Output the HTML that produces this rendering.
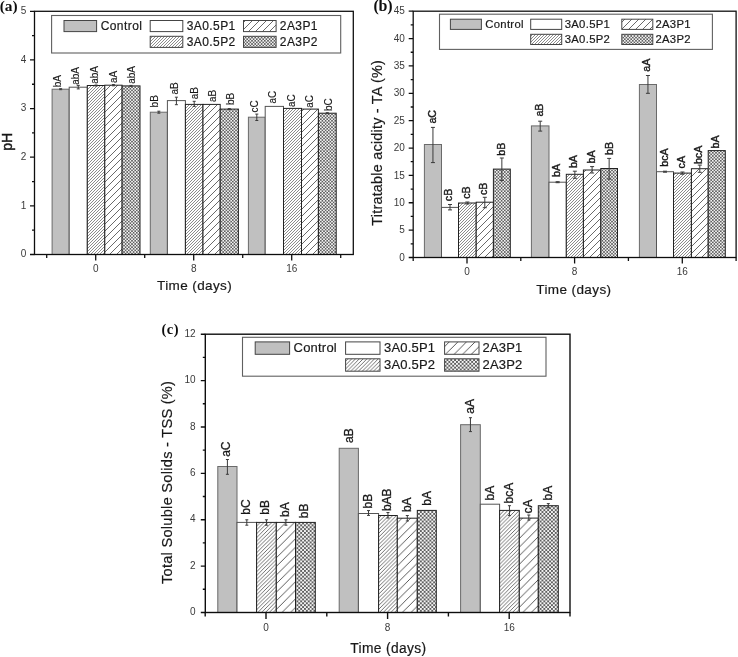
<!DOCTYPE html>
<html><head><meta charset="utf-8"><style>
html,body{margin:0;padding:0;background:#fff;}
svg{display:block;}
text{font-family:"Liberation Sans", sans-serif;}
.lab{stroke:#1a1a1a;stroke-width:0.3px;}
.tt{stroke:#1a1a1a;stroke-width:0.2px;}
.leg{stroke:#1a1a1a;stroke-width:0.2px;}
.tk{stroke:none;}
</style></head><body>
<svg width="738" height="657" viewBox="0 0 738 657">
<defs>
<pattern id="ad" patternUnits="userSpaceOnUse" width="3.0" height="3.0">
  <rect width="3.0" height="3.0" fill="#fff"/>
  <path d="M-1,4.0 L4.0,-1 M-4.0,4.0 L1.0,-1 M2.0,4.0 L7.0,-1" stroke="#5a5a5a" stroke-width="0.7"/>
</pattern>
<pattern id="as" patternUnits="userSpaceOnUse" width="7.0" height="7.0">
  <rect width="7.0" height="7.0" fill="#fff"/>
  <path d="M-1,8.0 L8.0,-1 M-8.0,8.0 L1.0,-1 M6.0,8.0 L15.0,-1" stroke="#505050" stroke-width="0.85"/>
</pattern>
<pattern id="ac" patternUnits="userSpaceOnUse" width="3.2" height="3.2">
  <rect width="3.2" height="3.2" fill="#f4f4f4"/>
  <rect width="1.6" height="1.6" fill="#606060"/>
  <rect x="1.6" y="1.6" width="1.6" height="1.6" fill="#606060"/>
</pattern>
<pattern id="bd" patternUnits="userSpaceOnUse" width="3.0" height="3.0">
  <rect width="3.0" height="3.0" fill="#fff"/>
  <path d="M-1,4.0 L4.0,-1 M-4.0,4.0 L1.0,-1 M2.0,4.0 L7.0,-1" stroke="#5a5a5a" stroke-width="0.7"/>
</pattern>
<pattern id="bs" patternUnits="userSpaceOnUse" width="7.0" height="7.0">
  <rect width="7.0" height="7.0" fill="#fff"/>
  <path d="M-1,8.0 L8.0,-1 M-8.0,8.0 L1.0,-1 M6.0,8.0 L15.0,-1" stroke="#505050" stroke-width="0.85"/>
</pattern>
<pattern id="bc" patternUnits="userSpaceOnUse" width="3.2" height="3.2">
  <rect width="3.2" height="3.2" fill="#f4f4f4"/>
  <rect width="1.6" height="1.6" fill="#606060"/>
  <rect x="1.6" y="1.6" width="1.6" height="1.6" fill="#606060"/>
</pattern>
<pattern id="cd" patternUnits="userSpaceOnUse" width="3.8" height="3.8">
  <rect width="3.8" height="3.8" fill="#fff"/>
  <path d="M-1,4.8 L4.8,-1 M-4.8,4.8 L1.0,-1 M2.8,4.8 L8.6,-1" stroke="#4a4a4a" stroke-width="0.8"/>
</pattern>
<pattern id="cs" patternUnits="userSpaceOnUse" width="8.6" height="8.6">
  <rect width="8.6" height="8.6" fill="#fff"/>
  <path d="M-1,9.6 L9.6,-1 M-9.6,9.6 L1.0,-1 M7.6,9.6 L18.2,-1" stroke="#3a3a3a" stroke-width="0.85"/>
</pattern>
<pattern id="cc" patternUnits="userSpaceOnUse" width="3.8" height="3.8">
  <rect width="3.8" height="3.8" fill="#f4f4f4"/>
  <rect width="1.9" height="1.9" fill="#606060"/>
  <rect x="1.9" y="1.9" width="1.9" height="1.9" fill="#606060"/>
</pattern><filter id="bl" x="0" y="0" width="100%" height="100%"><feGaussianBlur stdDeviation="0.35"/></filter></defs>
<rect width="738" height="657" fill="#fff"/>
<g filter="url(#bl)">
<rect width="738" height="657" fill="#fff"/>
<g>
<rect x="52.10" y="89.20" width="17.10" height="165.30" fill="#c0c0c0" stroke="#6a6a6a" stroke-width="1.0"/>
<rect x="69.20" y="87.20" width="18.10" height="167.30" fill="#ffffff" stroke="#555" stroke-width="1.0"/>
<rect x="87.30" y="85.50" width="17.50" height="169.00" fill="url(#ad)" stroke="#222" stroke-width="1.0"/>
<rect x="104.80" y="85.20" width="17.30" height="169.30" fill="url(#as)" stroke="#222" stroke-width="1.0"/>
<rect x="122.10" y="85.90" width="17.90" height="168.60" fill="url(#ac)" stroke="#222" stroke-width="1.0"/>
<path d="M60.65,88.70 V89.70 M59.15,88.70 H62.15 M59.15,89.70 H62.15" stroke="#3a3a3a" stroke-width="1" fill="none"/>
<text x="0" y="0" transform="translate(61.15 87.30) rotate(-90) scale(1 1)" class="lab" style="stroke-width:0.12px" font-size="10" fill="#1a1a1a">bA</text>
<path d="M78.25,85.40 V88.90 M76.75,85.40 H79.75 M76.75,88.90 H79.75" stroke="#3a3a3a" stroke-width="1" fill="none"/>
<text x="0" y="0" transform="translate(79.15 84.80) rotate(-90) scale(1 1)" class="lab" style="stroke-width:0.12px" font-size="10" fill="#1a1a1a">abA</text>
<path d="M96.05,85.00 V86.00 M94.55,85.00 H97.55 M94.55,86.00 H97.55" stroke="#3a3a3a" stroke-width="1" fill="none"/>
<text x="0" y="0" transform="translate(97.65 83.80) rotate(-90) scale(1 1)" class="lab" style="stroke-width:0.12px" font-size="10" fill="#1a1a1a">abA</text>
<path d="M113.45,84.60 V85.80 M111.95,84.60 H114.95 M111.95,85.80 H114.95" stroke="#3a3a3a" stroke-width="1" fill="none"/>
<text x="0" y="0" transform="translate(117.15 83.10) rotate(-90) scale(1 1)" class="lab" style="stroke-width:0.12px" font-size="10" fill="#1a1a1a">aA</text>
<path d="M131.05,85.40 V86.40 M129.55,85.40 H132.55 M129.55,86.40 H132.55" stroke="#3a3a3a" stroke-width="1" fill="none"/>
<text x="0" y="0" transform="translate(135.05 83.80) rotate(-90) scale(1 1)" class="lab" style="stroke-width:0.12px" font-size="10" fill="#1a1a1a">abA</text>
<rect x="150.30" y="112.20" width="17.10" height="142.30" fill="#c0c0c0" stroke="#6a6a6a" stroke-width="1.0"/>
<rect x="167.40" y="100.60" width="18.00" height="153.90" fill="#ffffff" stroke="#555" stroke-width="1.0"/>
<rect x="185.40" y="104.40" width="17.60" height="150.10" fill="url(#ad)" stroke="#222" stroke-width="1.0"/>
<rect x="203.00" y="104.40" width="17.20" height="150.10" fill="url(#as)" stroke="#222" stroke-width="1.0"/>
<rect x="220.20" y="109.10" width="18.20" height="145.40" fill="url(#ac)" stroke="#222" stroke-width="1.0"/>
<path d="M158.85,111.20 V113.20 M157.35,111.20 H160.35 M157.35,113.20 H160.35" stroke="#3a3a3a" stroke-width="1" fill="none"/>
<text x="0" y="0" transform="translate(157.65 107.40) rotate(-90) scale(1 1)" class="lab" style="stroke-width:0.12px" font-size="10" fill="#1a1a1a">bB</text>
<path d="M176.40,97.20 V104.70 M174.90,97.20 H177.90 M174.90,104.70 H177.90" stroke="#3a3a3a" stroke-width="1" fill="none"/>
<text x="0" y="0" transform="translate(178.15 94.60) rotate(-90) scale(1 1)" class="lab" style="stroke-width:0.12px" font-size="10" fill="#1a1a1a">aB</text>
<path d="M194.20,101.30 V106.40 M192.70,101.30 H195.70 M192.70,106.40 H195.70" stroke="#3a3a3a" stroke-width="1" fill="none"/>
<text x="0" y="0" transform="translate(197.65 99.30) rotate(-90) scale(1 1)" class="lab" style="stroke-width:0.12px" font-size="10" fill="#1a1a1a">aB</text>
<text x="0" y="0" transform="translate(215.75 102.00) rotate(-90) scale(1 1)" class="lab" style="stroke-width:0.12px" font-size="10" fill="#1a1a1a">aB</text>
<path d="M229.30,108.60 V109.60 M227.80,108.60 H230.80 M227.80,109.60 H230.80" stroke="#3a3a3a" stroke-width="1" fill="none"/>
<text x="0" y="0" transform="translate(233.95 105.10) rotate(-90) scale(1 1)" class="lab" style="stroke-width:0.12px" font-size="10" fill="#1a1a1a">bB</text>
<rect x="248.40" y="117.20" width="16.80" height="137.30" fill="#c0c0c0" stroke="#6a6a6a" stroke-width="1.0"/>
<rect x="265.20" y="106.40" width="18.30" height="148.10" fill="#ffffff" stroke="#555" stroke-width="1.0"/>
<rect x="283.50" y="108.40" width="18.00" height="146.10" fill="url(#ad)" stroke="#222" stroke-width="1.0"/>
<rect x="301.50" y="109.10" width="16.90" height="145.40" fill="url(#as)" stroke="#222" stroke-width="1.0"/>
<rect x="318.40" y="113.20" width="17.80" height="141.30" fill="url(#ac)" stroke="#222" stroke-width="1.0"/>
<path d="M256.80,114.10 V120.50 M255.30,114.10 H258.30 M255.30,120.50 H258.30" stroke="#3a3a3a" stroke-width="1" fill="none"/>
<text x="0" y="0" transform="translate(258.25 112.40) rotate(-90) scale(1 1)" class="lab" style="stroke-width:0.12px" font-size="10" fill="#1a1a1a">cC</text>
<text x="0" y="0" transform="translate(275.85 103.60) rotate(-90) scale(1 1)" class="lab" style="stroke-width:0.12px" font-size="10" fill="#1a1a1a">aC</text>
<text x="0" y="0" transform="translate(294.85 107.00) rotate(-90) scale(1 1)" class="lab" style="stroke-width:0.12px" font-size="10" fill="#1a1a1a">aC</text>
<text x="0" y="0" transform="translate(312.85 107.70) rotate(-90) scale(1 1)" class="lab" style="stroke-width:0.12px" font-size="10" fill="#1a1a1a">aC</text>
<path d="M327.30,112.70 V113.70 M325.80,112.70 H328.80 M325.80,113.70 H328.80" stroke="#3a3a3a" stroke-width="1" fill="none"/>
<text x="0" y="0" transform="translate(332.05 111.10) rotate(-90) scale(1 1)" class="lab" style="stroke-width:0.12px" font-size="10" fill="#1a1a1a">bC</text>
<rect x="34.5" y="11.3" width="318.80" height="243.20" fill="none" stroke="#111" stroke-width="1.3"/>
<text x="26.3" y="257.20" text-anchor="end" class="tk" font-size="10" fill="#3a3a3a">0</text>
<text x="26.3" y="208.56" text-anchor="end" class="tk" font-size="10" fill="#3a3a3a">1</text>
<text x="26.3" y="159.92" text-anchor="end" class="tk" font-size="10" fill="#3a3a3a">2</text>
<text x="26.3" y="111.28" text-anchor="end" class="tk" font-size="10" fill="#3a3a3a">3</text>
<text x="26.3" y="62.64" text-anchor="end" class="tk" font-size="10" fill="#3a3a3a">4</text>
<text x="26.3" y="14.00" text-anchor="end" class="tk" font-size="10" fill="#3a3a3a">5</text>
<text x="95.70" y="271.6" text-anchor="middle" class="tk" font-size="10" fill="#3a3a3a">0</text>
<text x="193.70" y="271.6" text-anchor="middle" class="tk" font-size="10" fill="#3a3a3a">8</text>
<text x="291.70" y="271.6" text-anchor="middle" class="tk" font-size="10" fill="#3a3a3a">16</text>
<path d="M30.00,254.50 H34.5 M32.00,230.18 H34.5 M30.00,205.86 H34.5 M32.00,181.54 H34.5 M30.00,157.22 H34.5 M32.00,132.90 H34.5 M30.00,108.58 H34.5 M32.00,84.26 H34.5 M30.00,59.94 H34.5 M32.00,35.62 H34.5 M30.00,11.30 H34.5 M95.70,254.5 V260.50 M193.70,254.5 V260.50 M291.70,254.5 V260.50 M46.70,254.5 V258.00 M144.70,254.5 V258.00 M242.70,254.5 V258.00 M340.70,254.5 V258.00" stroke="#111" stroke-width="1.3" fill="none"/>
<text x="194.6" y="290.4" text-anchor="middle" class="tt" font-size="13.5" letter-spacing="0.4" fill="#1a1a1a">Time (days)</text>
<text x="12.0" y="141.8" text-anchor="middle" transform="rotate(-90 12.0 141.8)" class="tt" style="stroke-width:0.45px" font-size="14" letter-spacing="0" fill="#1a1a1a">pH</text>
<text x="-0.3" y="10.7" style='font-family:"Liberation Serif", serif;font-weight:bold' font-size="15.4" letter-spacing="0" fill="#111">(a)</text>
<rect x="51.6" y="15.5" width="289.10" height="37.50" fill="#fff" stroke="#606060" stroke-width="1.1"/>
<rect x="64" y="20.5" width="32.6" height="11.1" fill="#c0c0c0" stroke="#444" stroke-width="1"/>
<text x="100.7" y="30.0" class="leg" font-size="12.0" letter-spacing="0.42" fill="#1a1a1a">Control</text>
<rect x="150.2" y="20.5" width="32.6" height="11.1" fill="#ffffff" stroke="#444" stroke-width="1"/>
<text x="186.7" y="30.0" class="leg" font-size="12.0" letter-spacing="0.42" fill="#1a1a1a">3A0.5P1</text>
<rect x="243.5" y="20.5" width="32.6" height="11.1" fill="url(#as)" stroke="#444" stroke-width="1"/>
<text x="279.8" y="30.0" class="leg" font-size="12.0" letter-spacing="0.42" fill="#1a1a1a">2A3P1</text>
<rect x="150.2" y="36.3" width="32.6" height="11.1" fill="url(#ad)" stroke="#444" stroke-width="1"/>
<text x="186.7" y="45.8" class="leg" font-size="12.0" letter-spacing="0.42" fill="#1a1a1a">3A0.5P2</text>
<rect x="243.5" y="36.3" width="32.6" height="11.1" fill="url(#ac)" stroke="#444" stroke-width="1"/>
<text x="279.8" y="45.8" class="leg" font-size="12.0" letter-spacing="0.42" fill="#1a1a1a">2A3P2</text>
</g>
<g>
<rect x="424.40" y="144.50" width="17.10" height="113.00" fill="#c0c0c0" stroke="#6a6a6a" stroke-width="1.0"/>
<rect x="441.50" y="207.40" width="17.00" height="50.10" fill="#ffffff" stroke="#555" stroke-width="1.0"/>
<rect x="458.50" y="203.00" width="17.70" height="54.50" fill="url(#bd)" stroke="#222" stroke-width="1.0"/>
<rect x="476.20" y="202.20" width="17.20" height="55.30" fill="url(#bs)" stroke="#222" stroke-width="1.0"/>
<rect x="493.40" y="169.10" width="16.90" height="88.40" fill="url(#bc)" stroke="#222" stroke-width="1.0"/>
<path d="M432.95,127.40 V162.60 M430.95,127.40 H434.95 M430.95,162.60 H434.95" stroke="#3a3a3a" stroke-width="1" fill="none"/>
<text x="0" y="0" transform="translate(436.05 123.60) rotate(-90) scale(1.06 1)" class="lab" style="stroke-width:0.4px" font-size="10.1" fill="#1a1a1a">aC</text>
<path d="M450.00,204.50 V209.90 M448.00,204.50 H452.00 M448.00,209.90 H452.00" stroke="#3a3a3a" stroke-width="1" fill="none"/>
<text x="0" y="0" transform="translate(452.45 201.20) rotate(-90) scale(1.06 1)" class="lab" style="stroke-width:0.4px" font-size="10.1" fill="#1a1a1a">cB</text>
<path d="M467.35,202.00 V204.00 M465.35,202.00 H469.35 M465.35,204.00 H469.35" stroke="#3a3a3a" stroke-width="1" fill="none"/>
<text x="0" y="0" transform="translate(469.75 198.80) rotate(-90) scale(1.06 1)" class="lab" style="stroke-width:0.4px" font-size="10.1" fill="#1a1a1a">cB</text>
<path d="M484.80,197.30 V207.70 M482.80,197.30 H486.80 M482.80,207.70 H486.80" stroke="#3a3a3a" stroke-width="1" fill="none"/>
<text x="0" y="0" transform="translate(486.85 195.00) rotate(-90) scale(1.06 1)" class="lab" style="stroke-width:0.4px" font-size="10.1" fill="#1a1a1a">cB</text>
<path d="M501.85,158.00 V180.60 M499.85,158.00 H503.85 M499.85,180.60 H503.85" stroke="#3a3a3a" stroke-width="1" fill="none"/>
<text x="0" y="0" transform="translate(505.15 155.70) rotate(-90) scale(1.06 1)" class="lab" style="stroke-width:0.4px" font-size="10.1" fill="#1a1a1a">bB</text>
<rect x="531.40" y="125.90" width="17.60" height="131.60" fill="#c0c0c0" stroke="#6a6a6a" stroke-width="1.0"/>
<rect x="549.00" y="182.20" width="17.30" height="75.30" fill="#ffffff" stroke="#555" stroke-width="1.0"/>
<rect x="566.30" y="174.30" width="17.10" height="83.20" fill="url(#bd)" stroke="#222" stroke-width="1.0"/>
<rect x="583.40" y="170.00" width="17.40" height="87.50" fill="url(#bs)" stroke="#222" stroke-width="1.0"/>
<rect x="600.80" y="168.50" width="16.70" height="89.00" fill="url(#bc)" stroke="#222" stroke-width="1.0"/>
<path d="M540.20,121.20 V131.10 M538.20,121.20 H542.20 M538.20,131.10 H542.20" stroke="#3a3a3a" stroke-width="1" fill="none"/>
<text x="0" y="0" transform="translate(542.55 116.60) rotate(-90) scale(1.06 1)" class="lab" style="stroke-width:0.4px" font-size="10.1" fill="#1a1a1a">aB</text>
<path d="M557.65,181.70 V182.70 M555.65,181.70 H559.65 M555.65,182.70 H559.65" stroke="#3a3a3a" stroke-width="1" fill="none"/>
<text x="0" y="0" transform="translate(560.35 176.90) rotate(-90) scale(1.06 1)" class="lab" style="stroke-width:0.4px" font-size="10.1" fill="#1a1a1a">bA</text>
<path d="M574.85,171.20 V178.30 M572.85,171.20 H576.85 M572.85,178.30 H576.85" stroke="#3a3a3a" stroke-width="1" fill="none"/>
<text x="0" y="0" transform="translate(577.45 168.10) rotate(-90) scale(1.06 1)" class="lab" style="stroke-width:0.4px" font-size="10.1" fill="#1a1a1a">bA</text>
<path d="M592.10,166.60 V173.00 M590.10,166.60 H594.10 M590.10,173.00 H594.10" stroke="#3a3a3a" stroke-width="1" fill="none"/>
<text x="0" y="0" transform="translate(595.15 163.50) rotate(-90) scale(1.06 1)" class="lab" style="stroke-width:0.4px" font-size="10.1" fill="#1a1a1a">bA</text>
<path d="M609.15,158.40 V179.10 M607.15,158.40 H611.15 M607.15,179.10 H611.15" stroke="#3a3a3a" stroke-width="1" fill="none"/>
<text x="0" y="0" transform="translate(612.85 154.90) rotate(-90) scale(1.06 1)" class="lab" style="stroke-width:0.4px" font-size="10.1" fill="#1a1a1a">bB</text>
<rect x="639.40" y="84.50" width="17.10" height="173.00" fill="#c0c0c0" stroke="#6a6a6a" stroke-width="1.0"/>
<rect x="656.50" y="171.70" width="17.00" height="85.80" fill="#ffffff" stroke="#555" stroke-width="1.0"/>
<rect x="673.50" y="173.10" width="17.90" height="84.40" fill="url(#bd)" stroke="#222" stroke-width="1.0"/>
<rect x="691.40" y="168.70" width="16.80" height="88.80" fill="url(#bs)" stroke="#222" stroke-width="1.0"/>
<rect x="708.20" y="150.60" width="17.10" height="106.90" fill="url(#bc)" stroke="#222" stroke-width="1.0"/>
<path d="M647.95,75.50 V93.30 M645.95,75.50 H649.95 M645.95,93.30 H649.95" stroke="#3a3a3a" stroke-width="1" fill="none"/>
<text x="0" y="0" transform="translate(649.75 71.80) rotate(-90) scale(1.06 1)" class="lab" style="stroke-width:0.4px" font-size="10.1" fill="#1a1a1a">aA</text>
<path d="M665.00,171.20 V172.20 M663.00,171.20 H667.00 M663.00,172.20 H667.00" stroke="#3a3a3a" stroke-width="1" fill="none"/>
<text x="0" y="0" transform="translate(667.55 166.80) rotate(-90) scale(1.06 1)" class="lab" style="stroke-width:0.4px" font-size="10.1" fill="#1a1a1a">bcA</text>
<path d="M682.45,172.00 V174.20 M680.45,172.00 H684.45 M680.45,174.20 H684.45" stroke="#3a3a3a" stroke-width="1" fill="none"/>
<text x="0" y="0" transform="translate(684.85 168.40) rotate(-90) scale(1.06 1)" class="lab" style="stroke-width:0.4px" font-size="10.1" fill="#1a1a1a">cA</text>
<path d="M699.80,165.10 V172.30 M697.80,165.10 H701.80 M697.80,172.30 H701.80" stroke="#3a3a3a" stroke-width="1" fill="none"/>
<text x="0" y="0" transform="translate(702.25 164.10) rotate(-90) scale(1.06 1)" class="lab" style="stroke-width:0.4px" font-size="10.1" fill="#1a1a1a">bcA</text>
<text x="0" y="0" transform="translate(719.05 148.40) rotate(-90) scale(1.06 1)" class="lab" style="stroke-width:0.4px" font-size="10.1" fill="#1a1a1a">bA</text>
<rect x="413.2" y="11.2" width="322.90" height="246.30" fill="none" stroke="#111" stroke-width="1.3"/>
<text x="404.8" y="260.60" text-anchor="end" class="tk" font-size="10" fill="#3a3a3a">0</text>
<text x="404.8" y="233.23" text-anchor="end" class="tk" font-size="10" fill="#3a3a3a">5</text>
<text x="404.8" y="205.87" text-anchor="end" class="tk" font-size="10" fill="#3a3a3a">10</text>
<text x="404.8" y="178.50" text-anchor="end" class="tk" font-size="10" fill="#3a3a3a">15</text>
<text x="404.8" y="151.13" text-anchor="end" class="tk" font-size="10" fill="#3a3a3a">20</text>
<text x="404.8" y="123.77" text-anchor="end" class="tk" font-size="10" fill="#3a3a3a">25</text>
<text x="404.8" y="96.40" text-anchor="end" class="tk" font-size="10" fill="#3a3a3a">30</text>
<text x="404.8" y="69.03" text-anchor="end" class="tk" font-size="10" fill="#3a3a3a">35</text>
<text x="404.8" y="41.67" text-anchor="end" class="tk" font-size="10" fill="#3a3a3a">40</text>
<text x="404.8" y="14.30" text-anchor="end" class="tk" font-size="10" fill="#3a3a3a">45</text>
<text x="467.00" y="274.5" text-anchor="middle" class="tk" font-size="10" fill="#3a3a3a">0</text>
<text x="574.60" y="274.5" text-anchor="middle" class="tk" font-size="10" fill="#3a3a3a">8</text>
<text x="682.30" y="274.5" text-anchor="middle" class="tk" font-size="10" fill="#3a3a3a">16</text>
<path d="M408.70,257.50 H413.2 M410.70,243.82 H413.2 M408.70,230.13 H413.2 M410.70,216.45 H413.2 M408.70,202.77 H413.2 M410.70,189.08 H413.2 M408.70,175.40 H413.2 M410.70,161.72 H413.2 M408.70,148.03 H413.2 M410.70,134.35 H413.2 M408.70,120.67 H413.2 M410.70,106.98 H413.2 M408.70,93.30 H413.2 M410.70,79.62 H413.2 M408.70,65.93 H413.2 M410.70,52.25 H413.2 M408.70,38.57 H413.2 M410.70,24.88 H413.2 M408.70,11.20 H413.2 M467.00,257.5 V263.50 M574.60,257.5 V263.50 M682.30,257.5 V263.50 M413.20,257.5 V261.00 M520.80,257.5 V261.00 M628.40,257.5 V261.00 M736.10,257.5 V261.00" stroke="#111" stroke-width="1.3" fill="none"/>
<text x="573.9" y="293.5" text-anchor="middle" class="tt" font-size="13.5" letter-spacing="0.4" fill="#1a1a1a">Time (days)</text>
<text x="382.5" y="142.8" text-anchor="middle" transform="rotate(-90 382.5 142.8)" class="tt" style="stroke-width:0.2px" font-size="14.4" letter-spacing="0.23" fill="#1a1a1a">Titratable acidity - TA (%)</text>
<text x="373.5" y="11.4" style='font-family:"Liberation Serif", serif;font-weight:bold' font-size="16" letter-spacing="-0.3" fill="#111">(b)</text>
<rect x="439.5" y="14.2" width="272.90" height="35.20" fill="#fff" stroke="#606060" stroke-width="1.1"/>
<rect x="450.4" y="19.2" width="31" height="10.2" fill="#c0c0c0" stroke="#444" stroke-width="1"/>
<text x="485.3" y="28.0" class="leg" font-size="11.3" letter-spacing="0.3" fill="#1a1a1a">Control</text>
<rect x="530.7" y="19.2" width="31" height="10.2" fill="#ffffff" stroke="#444" stroke-width="1"/>
<text x="564.7" y="28.0" class="leg" font-size="11.3" letter-spacing="0.3" fill="#1a1a1a">3A0.5P1</text>
<rect x="621.8" y="19.2" width="31" height="10.2" fill="url(#bs)" stroke="#444" stroke-width="1"/>
<text x="655.4" y="28.0" class="leg" font-size="11.3" letter-spacing="0.3" fill="#1a1a1a">2A3P1</text>
<rect x="530.7" y="34.3" width="31" height="10.2" fill="url(#bd)" stroke="#444" stroke-width="1"/>
<text x="564.7" y="42.7" class="leg" font-size="11.3" letter-spacing="0.3" fill="#1a1a1a">3A0.5P2</text>
<rect x="621.8" y="34.3" width="31" height="10.2" fill="url(#bc)" stroke="#444" stroke-width="1"/>
<text x="655.4" y="42.7" class="leg" font-size="11.3" letter-spacing="0.3" fill="#1a1a1a">2A3P2</text>
</g>
<g>
<rect x="217.80" y="466.50" width="19.20" height="146.00" fill="#c0c0c0" stroke="#6a6a6a" stroke-width="1.0"/>
<rect x="237.00" y="522.40" width="19.60" height="90.10" fill="#ffffff" stroke="#555" stroke-width="1.0"/>
<rect x="256.60" y="522.40" width="19.70" height="90.10" fill="url(#cd)" stroke="#222" stroke-width="1.0"/>
<rect x="276.30" y="522.40" width="19.20" height="90.10" fill="url(#cs)" stroke="#222" stroke-width="1.0"/>
<rect x="295.50" y="522.40" width="19.80" height="90.10" fill="url(#cc)" stroke="#222" stroke-width="1.0"/>
<path d="M227.40,459.50 V474.30 M225.90,459.50 H228.90 M225.90,474.30 H228.90" stroke="#3a3a3a" stroke-width="1" fill="none"/>
<text x="0" y="0" transform="translate(230.05 456.80) rotate(-90) scale(1 1)" class="lab" style="stroke-width:0.3px" font-size="12.0" fill="#1a1a1a">aC</text>
<path d="M246.80,519.80 V525.20 M245.30,519.80 H248.30 M245.30,525.20 H248.30" stroke="#3a3a3a" stroke-width="1" fill="none"/>
<text x="0" y="0" transform="translate(249.65 514.70) rotate(-90) scale(1 1)" class="lab" style="stroke-width:0.3px" font-size="12.0" fill="#1a1a1a">bC</text>
<path d="M266.45,519.80 V525.20 M264.95,519.80 H267.95 M264.95,525.20 H267.95" stroke="#3a3a3a" stroke-width="1" fill="none"/>
<text x="0" y="0" transform="translate(269.25 514.70) rotate(-90) scale(1 1)" class="lab" style="stroke-width:0.3px" font-size="12.0" fill="#1a1a1a">bB</text>
<path d="M285.90,519.80 V525.20 M284.40,519.80 H287.40 M284.40,525.20 H287.40" stroke="#3a3a3a" stroke-width="1" fill="none"/>
<text x="0" y="0" transform="translate(288.75 517.00) rotate(-90) scale(1 1)" class="lab" style="stroke-width:0.3px" font-size="12.0" fill="#1a1a1a">bA</text>
<text x="0" y="0" transform="translate(308.35 518.20) rotate(-90) scale(1 1)" class="lab" style="stroke-width:0.3px" font-size="12.0" fill="#1a1a1a">bB</text>
<rect x="339.20" y="448.30" width="19.20" height="164.20" fill="#c0c0c0" stroke="#6a6a6a" stroke-width="1.0"/>
<rect x="358.40" y="513.50" width="20.20" height="99.00" fill="#ffffff" stroke="#555" stroke-width="1.0"/>
<rect x="378.60" y="515.50" width="18.70" height="97.00" fill="url(#cd)" stroke="#222" stroke-width="1.0"/>
<rect x="397.30" y="518.20" width="20.00" height="94.30" fill="url(#cs)" stroke="#222" stroke-width="1.0"/>
<rect x="417.30" y="510.40" width="19.00" height="102.10" fill="url(#cc)" stroke="#222" stroke-width="1.0"/>
<text x="0" y="0" transform="translate(352.55 443.00) rotate(-90) scale(1 1)" class="lab" style="stroke-width:0.3px" font-size="12.0" fill="#1a1a1a">aB</text>
<path d="M368.50,510.60 V515.40 M367.00,510.60 H370.00 M367.00,515.40 H370.00" stroke="#3a3a3a" stroke-width="1" fill="none"/>
<text x="0" y="0" transform="translate(372.35 508.40) rotate(-90) scale(1 1)" class="lab" style="stroke-width:0.3px" font-size="12.0" fill="#1a1a1a">bB</text>
<path d="M387.95,512.50 V518.00 M386.45,512.50 H389.45 M386.45,518.00 H389.45" stroke="#3a3a3a" stroke-width="1" fill="none"/>
<text x="0" y="0" transform="translate(390.65 511.10) rotate(-90) scale(1 1)" class="lab" style="stroke-width:0.3px" font-size="12.0" fill="#1a1a1a">bAB</text>
<path d="M407.30,515.50 V521.00 M405.80,515.50 H408.80 M405.80,521.00 H408.80" stroke="#3a3a3a" stroke-width="1" fill="none"/>
<text x="0" y="0" transform="translate(411.05 512.10) rotate(-90) scale(1 1)" class="lab" style="stroke-width:0.3px" font-size="12.0" fill="#1a1a1a">bA</text>
<text x="0" y="0" transform="translate(431.15 505.70) rotate(-90) scale(1 1)" class="lab" style="stroke-width:0.3px" font-size="12.0" fill="#1a1a1a">bA</text>
<rect x="460.60" y="424.70" width="19.70" height="187.80" fill="#c0c0c0" stroke="#6a6a6a" stroke-width="1.0"/>
<rect x="480.30" y="504.20" width="19.30" height="108.30" fill="#ffffff" stroke="#555" stroke-width="1.0"/>
<rect x="499.60" y="510.40" width="19.70" height="102.10" fill="url(#cd)" stroke="#222" stroke-width="1.0"/>
<rect x="519.30" y="518.10" width="19.00" height="94.40" fill="url(#cs)" stroke="#222" stroke-width="1.0"/>
<rect x="538.30" y="505.70" width="20.00" height="106.80" fill="url(#cc)" stroke="#222" stroke-width="1.0"/>
<path d="M470.45,417.70 V431.60 M468.95,417.70 H471.95 M468.95,431.60 H471.95" stroke="#3a3a3a" stroke-width="1" fill="none"/>
<text x="0" y="0" transform="translate(473.65 413.70) rotate(-90) scale(1 1)" class="lab" style="stroke-width:0.3px" font-size="12.0" fill="#1a1a1a">aA</text>
<text x="0" y="0" transform="translate(493.55 500.40) rotate(-90) scale(1 1)" class="lab" style="stroke-width:0.3px" font-size="12.0" fill="#1a1a1a">bA</text>
<path d="M509.45,505.70 V515.60 M507.95,505.70 H510.95 M507.95,515.60 H510.95" stroke="#3a3a3a" stroke-width="1" fill="none"/>
<text x="0" y="0" transform="translate(512.55 503.40) rotate(-90) scale(1 1)" class="lab" style="stroke-width:0.3px" font-size="12.0" fill="#1a1a1a">bcA</text>
<path d="M528.80,515.00 V520.10 M527.30,515.00 H530.30 M527.30,520.10 H530.30" stroke="#3a3a3a" stroke-width="1" fill="none"/>
<text x="0" y="0" transform="translate(531.75 513.40) rotate(-90) scale(1 1)" class="lab" style="stroke-width:0.3px" font-size="12.0" fill="#1a1a1a">cA</text>
<path d="M548.30,503.60 V507.80 M546.80,503.60 H549.80 M546.80,507.80 H549.80" stroke="#3a3a3a" stroke-width="1" fill="none"/>
<text x="0" y="0" transform="translate(551.65 500.40) rotate(-90) scale(1 1)" class="lab" style="stroke-width:0.3px" font-size="12.0" fill="#1a1a1a">bA</text>
<rect x="205.3" y="334.2" width="364.70" height="278.30" fill="none" stroke="#111" stroke-width="1.4"/>
<text x="195.5" y="615.20" text-anchor="end" class="tk" font-size="10" fill="#3a3a3a">0</text>
<text x="195.5" y="568.82" text-anchor="end" class="tk" font-size="10" fill="#3a3a3a">2</text>
<text x="195.5" y="522.43" text-anchor="end" class="tk" font-size="10" fill="#3a3a3a">4</text>
<text x="195.5" y="476.05" text-anchor="end" class="tk" font-size="10" fill="#3a3a3a">6</text>
<text x="195.5" y="429.67" text-anchor="end" class="tk" font-size="10" fill="#3a3a3a">8</text>
<text x="195.5" y="383.28" text-anchor="end" class="tk" font-size="10" fill="#3a3a3a">10</text>
<text x="195.5" y="336.90" text-anchor="end" class="tk" font-size="10" fill="#3a3a3a">12</text>
<text x="266.00" y="631.0" text-anchor="middle" class="tk" font-size="10" fill="#3a3a3a">0</text>
<text x="387.60" y="631.0" text-anchor="middle" class="tk" font-size="10" fill="#3a3a3a">8</text>
<text x="509.20" y="631.0" text-anchor="middle" class="tk" font-size="10" fill="#3a3a3a">16</text>
<path d="M200.80,612.50 H205.3 M202.80,589.31 H205.3 M200.80,566.12 H205.3 M202.80,542.92 H205.3 M200.80,519.73 H205.3 M202.80,496.54 H205.3 M200.80,473.35 H205.3 M202.80,450.16 H205.3 M200.80,426.97 H205.3 M202.80,403.77 H205.3 M200.80,380.58 H205.3 M202.80,357.39 H205.3 M200.80,334.20 H205.3 M266.00,612.5 V619.00 M387.60,612.5 V619.00 M509.20,612.5 V619.00 M205.20,612.5 V616.50 M326.80,612.5 V616.50 M448.40,612.5 V616.50 M570.00,612.5 V616.50" stroke="#111" stroke-width="1.4" fill="none"/>
<text x="388.3" y="652.6" text-anchor="middle" class="tt" font-size="13.8" letter-spacing="0.35" fill="#1a1a1a">Time (days)</text>
<text x="172.0" y="482.4" text-anchor="middle" transform="rotate(-90 172.0 482.4)" class="tt" style="stroke-width:0.2px" font-size="14.6" letter-spacing="0.27" fill="#1a1a1a">Total Soluble Solids - TSS (%)</text>
<text x="161.5" y="333.8" style='font-family:"Liberation Serif", serif;font-weight:bold' font-size="14.5" letter-spacing="0.5" fill="#111">(c)</text>
<rect x="242.5" y="337.3" width="303.50" height="38.90" fill="#fff" stroke="#606060" stroke-width="1.1"/>
<rect x="255.2" y="341.9" width="34.4" height="12.4" fill="#c0c0c0" stroke="#444" stroke-width="1"/>
<text x="293.6" y="352.3" class="leg" font-size="13.0" letter-spacing="0.2" fill="#1a1a1a">Control</text>
<rect x="345.6" y="341.9" width="34.4" height="12.4" fill="#ffffff" stroke="#444" stroke-width="1"/>
<text x="384.0" y="352.3" class="leg" font-size="13.0" letter-spacing="0.2" fill="#1a1a1a">3A0.5P1</text>
<rect x="444.6" y="341.9" width="34.4" height="12.4" fill="url(#cs)" stroke="#444" stroke-width="1"/>
<text x="482.5" y="352.3" class="leg" font-size="13.0" letter-spacing="0.2" fill="#1a1a1a">2A3P1</text>
<rect x="345.6" y="358.8" width="34.4" height="12.4" fill="url(#cd)" stroke="#444" stroke-width="1"/>
<text x="384.0" y="369.0" class="leg" font-size="13.0" letter-spacing="0.2" fill="#1a1a1a">3A0.5P2</text>
<rect x="444.6" y="358.8" width="34.4" height="12.4" fill="url(#cc)" stroke="#444" stroke-width="1"/>
<text x="482.5" y="369.0" class="leg" font-size="13.0" letter-spacing="0.2" fill="#1a1a1a">2A3P2</text>
</g>
</g>
</svg>
</body></html>
